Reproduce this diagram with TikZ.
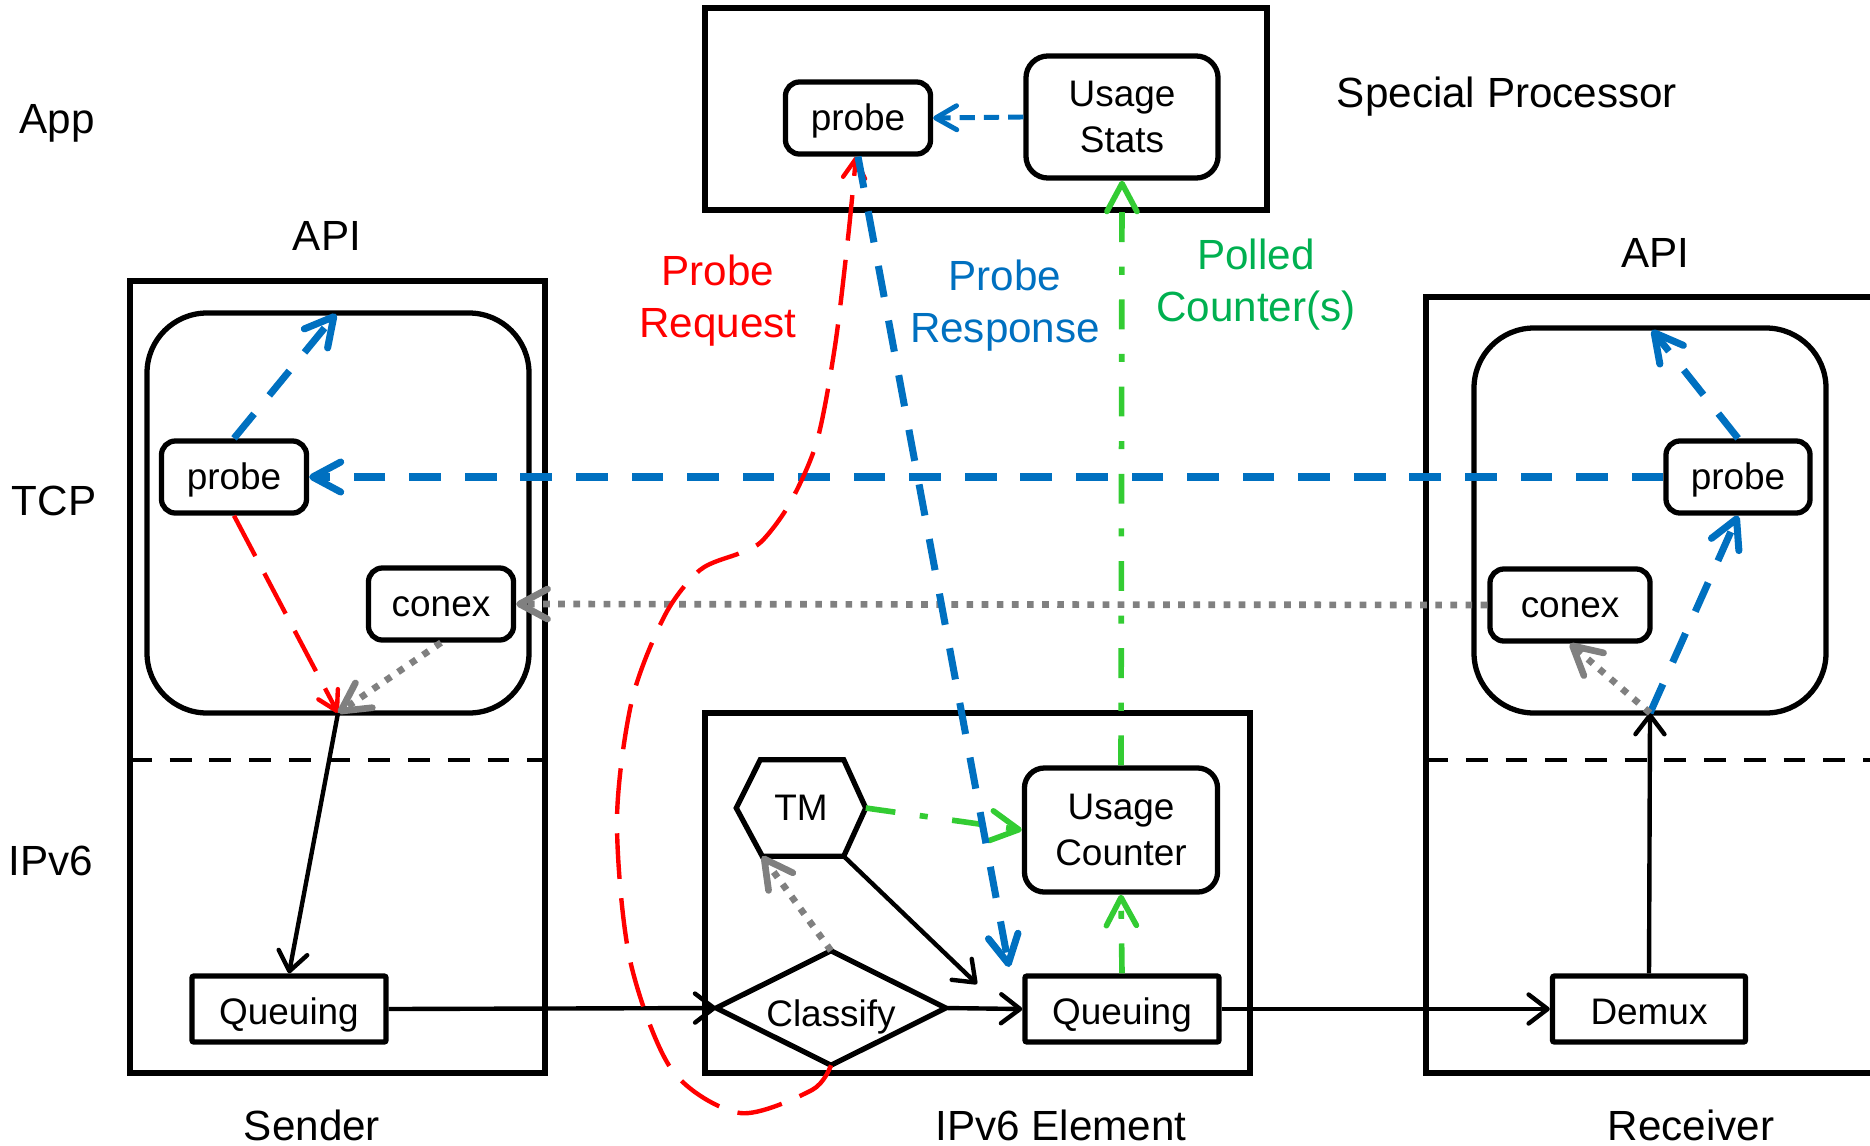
\documentclass[tikz,border=0pt]{standalone}
\usepackage{fontspec}
\setmainfont{Liberation Sans}
\usetikzlibrary{arrows.meta,shapes.geometric,calc}
\definecolor{myblue}{HTML}{0070C0}
\definecolor{myred}{HTML}{FF0000}
\definecolor{mygreen}{HTML}{33CC33}
\definecolor{mygreentext}{HTML}{00B050}
\definecolor{mygray}{HTML}{808080}
\begin{document}
\begin{tikzpicture}[x=0.01cm,y=-0.01cm,
  nodefont/.style={font=\fontsize{10.5}{12.9}\selectfont},
  ntext/.style={text height=9.5pt, text depth=2.23pt},
  lbl/.style={font=\fontsize{12}{14.8}\selectfont, align=center, inner sep=0pt},
  ltext/.style={text height=10.86pt, text depth=2.54pt},
  frame/.style={draw, line width=1.5pt},
  rbox/.style={draw, line width=1.5pt, rounded corners=0.14cm, inner sep=0pt, nodefont, align=center, fill=white},
  sbox/.style={draw, line width=1.5pt, rounded corners=0.02cm, inner sep=0pt, nodefont, text height=10.9pt, text depth=2.23pt, fill=white},
  layerline/.style={line width=1.3pt, dash pattern=on 6.2pt off 5.1pt},
  bluedash/.style={draw=myblue, line width=2pt, dash pattern=on 9pt off 6.8pt, -{Straight Barb[length=2.8mm,width=3mm,round]}},
  blueshort/.style={draw=myblue, line width=1.4pt, dash pattern=on 4.3pt off 2.6pt, -{Straight Barb[length=2.1mm,width=2.4mm,round]}},
  reddash/.style={draw=myred, line width=1.25pt, dash pattern=on 13pt off 5.5pt, -{Straight Barb[length=1.9mm,width=2.2mm,round]}},
  graydot/.style={draw=mygray, line width=1.9pt, dash pattern=on 1.9pt off 2.4pt, -{Straight Barb[length=2.8mm,width=3mm,round]}},
  greendd/.style={draw=mygreen, line width=1.6pt, dash pattern=on 8.5pt off 7pt on 2.3pt off 7pt, -{Straight Barb[length=2.8mm,width=3mm,round]}},
  blackarrow/.style={draw=black, line width=1.25pt, -{Straight Barb[length=1.9mm,width=2.9mm,round]}}
]
\useasboundingbox (0,0) rectangle (1870,1145);
\clip (0,0) rectangle (1870,1145);

% containers
\draw[frame] (130,281) rectangle (545,1073);
\draw[frame] (705,8) rectangle (1267,210);
\draw[frame] (705,713) rectangle (1250,1073);
\draw[frame] (1426,297) rectangle (1900,1073);
\draw[frame, rounded corners=0.6cm] (147,313) rectangle (529,713);
\draw[frame, rounded corners=0.6cm] (1474,328) rectangle (1826,713);
\draw[layerline] (130,760) -- (545,760);
\draw[layerline] (1426,760) -- (1870,760);

% layer labels
\node[lbl, ltext] (app) at (57,119) {App};
\node[lbl, ltext] (tcp) at (54,501) {TCP};
\node[lbl, ltext] (ipv6) at (51,861) {IPv6};
\node[lbl, ltext] (apiL) at (327,236) {API};
\node[lbl, ltext] (apiRl) at (1655,253) {API};
\node[lbl, ltext] (sender) at (312,1126) {Sender};
\node[lbl, ltext] (elem) at (1061,1126) {IPv6 Element};
\node[lbl, ltext] (recv) at (1691,1126) {Receiver};
\node[lbl, ltext] (sp) at (1507,93) {Special Processor};
\node[lbl, text=myred] (preq) at (718,301) {Probe\\Request};
\node[lbl, text=myblue] (presp) at (1005,306) {Probe\\Response};
\node[lbl, text=mygreentext] (poll) at (1256,285) {Polled\\Counter(s)};

% free ends
\coordinate (tipL) at (336,314);
\coordinate (tipR) at (1652,330);
\coordinate (jL) at (338,713);
\coordinate (jR) at (1650,713);
\coordinate (bEnd) at (1009,967);
\coordinate (tmEnd) at (977,984);

% nodes
\node[rbox, ntext, minimum width=1.45cm, minimum height=0.72cm] (pL) at (234,477) {probe};
\node[rbox, ntext, minimum width=1.45cm, minimum height=0.72cm] (cL) at (441,604) {conex};
\node[sbox, minimum width=1.94cm, minimum height=0.66cm] (qL) at (289,1009) {Queuing};
\node[rbox, ntext, minimum width=1.44cm, minimum height=0.72cm] (pR) at (1738,477) {probe};
\node[rbox, ntext, minimum width=1.60cm, minimum height=0.72cm] (cR) at (1570,605) {conex};
\node[sbox, minimum width=1.93cm, minimum height=0.66cm] (dm) at (1649,1009) {Demux};
\node[rbox, ntext, minimum width=1.45cm, minimum height=0.72cm] (pT) at (858,118) {probe};
\node[rbox, rounded corners=0.22cm, minimum width=1.92cm, minimum height=1.22cm] (st) at (1122,117) {Usage\\Stats};
\node[rbox, rounded corners=0.2cm, minimum width=1.93cm, minimum height=1.24cm] (uc) at (1121,830) {Usage\\Counter};
\node[sbox, minimum width=1.94cm, minimum height=0.66cm] (qM) at (1122,1009) {Queuing};
\node[nodefont, text height=12.9pt, text depth=2.23pt, inner sep=0pt, minimum width=2.28cm, minimum height=1.13cm] (cls) at (831,1008) {Classify};
\draw[line width=1.5pt, line join=miter] (cls.west) -- (cls.north) -- (cls.east) -- (cls.south) -- cycle;
\node[nodefont, ntext, inner sep=0pt, minimum width=1.28cm, minimum height=0.95cm] (tm) at (801,808) {TM};
\coordinate (tmL) at (tm.west);
\coordinate (tmTL) at ($(tm.north west)+(24,0)$);
\coordinate (tmTR) at ($(tm.north east)+(-22,0)$);
\coordinate (tmR) at (tm.east);
\coordinate (tmBR) at ($(tm.south east)+(-22,0)$);
\coordinate (tmBL) at ($(tm.south west)+(26,0)$);
\draw[line width=1.5pt, line join=miter] (tmL) -- (tmTL) -- (tmTR) -- (tmR) -- (tmBR) -- (tmBL) -- cycle;

% connectors
\draw[bluedash] (pR.west) -- (pL.east);
\draw[graydot] (cR.west) -- (cL.east);
\draw[bluedash] (pL.north) -- (tipL);
\draw[reddash] (pL.south) -- (jL);
\draw[graydot] (cL.south) -- (jL);
\draw[blackarrow] (jL) -- (qL.north);
\draw[blackarrow] (qL.east) -- (cls.west);
\draw[blackarrow] (cls.east) -- (qM.west);
\draw[blackarrow] (qM.east) -- (dm.west);
\draw[blackarrow] (dm.north) -- (jR);
\draw[bluedash] (jR) -- (pR.south);
\draw[graydot] (jR) -- (cR.south);
\draw[bluedash] (pR.north) -- (tipR);
\draw[blueshort] (st.west) -- (pT.east);
\draw[greendd] (uc.north) -- (st.south);
\draw[greendd] (qM.north) -- (uc.south);
\draw[greendd] (tmR) -- (uc.west);
\draw[blackarrow] (tmBR) -- (tmEnd);
\draw[graydot] (cls.north) -- (tmBL);
\draw[reddash] plot[smooth, tension=0.5] coordinates {(cls.south) (812,1090) (740,1113) (672,1070) (630,960) (617,820) (632,700) (665,615) (700,570) (740,553) (762,541) (790,503) (817,441) (835,346) (848,238) ($(pT.south)+(-2,0)$)};
\draw[bluedash] (pT.south) -- (bEnd);
\end{tikzpicture}
\end{document}
